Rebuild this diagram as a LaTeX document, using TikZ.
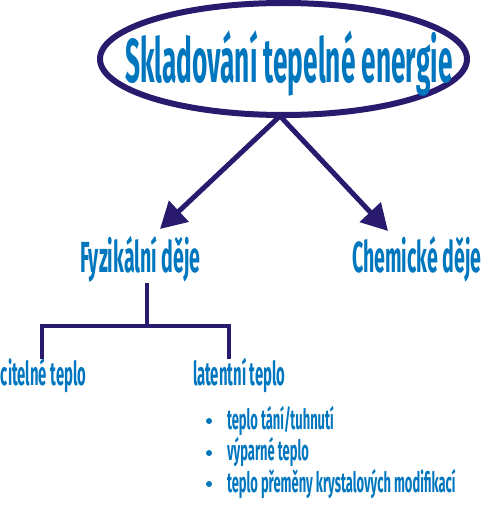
\documentclass[tikz,border=0pt]{standalone}
\usepackage{fontspec}
\newfontfamily\agency{Fira Sans}[FakeStretch=0.45]
\newfontfamily\agencyT{Fira Sans}[FakeStretch=0.424]
\newfontfamily\agencyS{Fira Sans}[FakeStretch=0.462]
\usetikzlibrary{arrows.meta,shapes.geometric}
\definecolor{navy}{RGB}{42,26,110}
\definecolor{tblue}{RGB}{0,118,190}
\begin{document}
\begin{tikzpicture}[x=1pt,y=-1pt,
  lbl/.style={text=tblue,font=\agency\bfseries,inner sep=0pt,outer sep=0pt,anchor=base west},
  big/.style={lbl,font=\agencyT\bfseries\fontsize{62}{62}\selectfont},
  mid/.style={lbl,font=\agency\bfseries\fontsize{43.5}{43.5}\selectfont},
  small/.style={lbl,font=\agency\bfseries\fontsize{33}{33}\selectfont},
  tiny/.style={lbl,font=\agencyS\bfseries\fontsize{28}{28}\selectfont},
  arr/.style={navy,line width=5pt,-{Triangle[length=26pt,width=28pt]}},
  tree/.style={navy,line width=4pt}]
\useasboundingbox (0,0) rectangle (500,505);
\node[ellipse,draw=navy,line width=6pt,minimum width=367pt,minimum height=112pt,inner sep=0pt,outer sep=0pt] (root) at (283.5,59) {};
\node[big] (title) at (125,83) {Skladování tepelné energie};
\node[mid] (fyz) at (80,272) {Fyzikální děje};
\node[mid] (chem) at (352,272) {Chemické děje};
\node[small] (cit) at (1,385) {citelné teplo};
\node[small] (lat) at (193,385) {latentní teplo};
\node[tiny] (b1) at (227,429) {teplo tání/tuhnutí};
\node[tiny] (b2) at (227,460) {výparné teplo};
\node[tiny] (b3) at (227,492) {teplo přeměny krystalových modifikací};
\foreach \y/\n in {421/d1,453/d2,484/d3}
  \fill[tblue] (209,\y) circle (3pt) coordinate (\n);
\coordinate (s) at (280,116);
\coordinate (t1) at (160,229);
\coordinate (t2) at (388,231);
\draw[arr] (s) -- (t1);
\draw[arr] (s) -- (t2);
\coordinate (f0) at (147,283);
\coordinate (j) at (147,326);
\coordinate (c0) at (42,357);
\coordinate (l0) at (229,357);
\draw[tree] (f0) -- (j);
\draw[tree,line cap=rect] (c0) |- (j) -| (l0);
\end{tikzpicture}
\end{document}
